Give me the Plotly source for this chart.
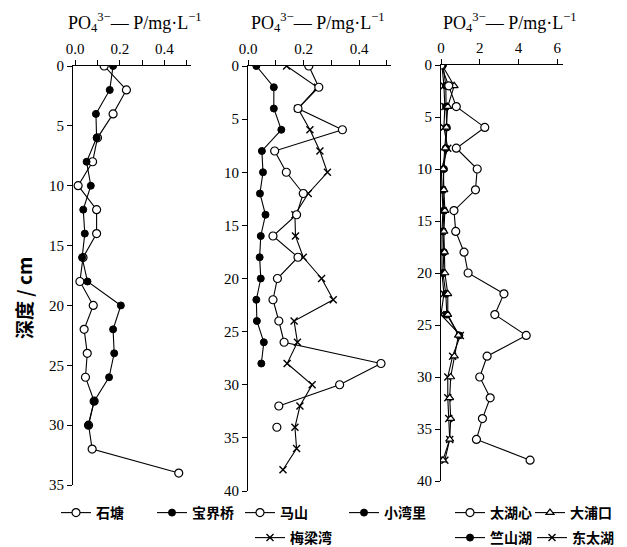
import plotly.graph_objects as go

W, H = 627, 547

# ---------------- data (PO4-P, mg/L vs depth, cm) ----------------
# Panel 1
depth_shitang = [0, 2, 4, 6, 8, 10, 12, 14, 16, 18, 20, 22, 24, 26, 28, 30, 32, 34]
shitang = [0.13, 0.23, 0.17, 0.10, 0.078, 0.013, 0.096, 0.096, 0.035, 0.021, 0.081,
           0.040, 0.054, 0.046, 0.085, 0.060, 0.076, 0.465]
depth_baojieqiao = [0, 2, 4, 6, 8, 10, 12, 14, 16, 18, 20, 22, 24, 26, 28, 30]
baojieqiao = [0.17, 0.155, 0.093, 0.096, 0.051, 0.070, 0.036, 0.043, 0.031, 0.055,
              0.205, 0.170, 0.175, 0.152, 0.085, 0.058]

# Panel 2
depth_mashan = [0, 2, 4, 6, 8, 10, 12, 14, 16, 18, 20, 22, 24, 26, 28, 30, 32, 33, 34]
mashan = [0.219, 0.255, 0.180, 0.340, 0.096, 0.138, 0.199, 0.175, 0.090, 0.180, 0.106,
          0.090, 0.111, 0.130, 0.479, 0.330, 0.111, None, 0.104]
depth_xiaowanli = [0, 2, 4, 6, 8, 10, 12, 14, 16, 18, 20, 22, 24, 26, 28]
xiaowanli = [0.030, 0.093, 0.093, 0.120, 0.050, 0.054, 0.043, 0.063, 0.046, 0.042,
             0.046, 0.030, 0.032, 0.057, 0.048]
depth_meiliangwan = [0, 2, 4, 6, 8, 10, 12, 14, 16, 18, 20, 22, 24, 26, 28, 30, 32, 34, 36, 38]
meiliangwan = [0.139, 0.250, 0.180, 0.223, 0.259, 0.286, 0.217, 0.169, 0.171, 0.199,
               0.265, 0.307, 0.166, 0.178, 0.141, 0.231, 0.187, 0.169, 0.175, 0.126]

# Panel 3
depth_p3 = [0, 2, 4, 6, 8, 10, 12, 14, 16, 18, 20, 22, 24, 26, 28, 30, 32, 34, 36, 38]
taihuxin = [0.0, 0.40, 0.79, 2.26, 0.79, 1.87, 1.78, 0.67, 0.76, 1.19, 1.40, 3.25,
            2.78, 4.40, 2.38, 2.00, 2.54, 2.14, 1.83, 4.60]
dapukou = [0.05, 0.68, 0.35, 0.28, 0.22, 0.12, 0.15, 0.20, 0.15, 0.18, 0.20, 0.35,
           0.35, 0.90, 0.69, 0.50, 0.45, 0.50, 0.45, 0.10]
depth_zhushanhu = [0, 2, 4, 6, 8, 10, 12, 14, 16, 18, 20, 22, 24, 26]
zhushanhu = [0.10, 0.25, 0.26, 0.30, 0.25, 0.15, 0.10, 0.15, 0.10, 0.15, 0.10, 0.25,
             0.30, 0.95]
dongtaihu = [0.05, 0.15, 0.20, 0.15, 0.35, 0.02, 0.05, 0.10, 0.05, 0.05, 0.05, 0.15,
             0.00, 1.00, 0.60, 0.35, 0.35, 0.40, 0.45, 0.20]

x_ticks_12 = [0.0, 0.1, 0.2, 0.3, 0.4, 0.5]
x_labels_12 = ["0.0", "", "0.2", "", "0.4", ""]
x_ticks_3 = [0, 2, 4, 6]
x_labels_3 = ["0", "2", "4", "6"]
y_ticks_1 = [0, 5, 10, 15, 20, 25, 30, 35]
y_ticks_23 = [0, 5, 10, 15, 20, 25, 30, 35, 40]

# ---------------- styles ----------------
SERIF = "Liberation Serif, Times New Roman, serif"
CJK = "Noto Sans CJK SC, sans-serif"
LINE = dict(color="black", width=1.1)
OPEN_C = dict(symbol="circle", size=8, color="white", line=dict(color="black", width=1.2))
FILL_C = dict(symbol="circle", size=7, color="black", line=dict(color="black", width=1))
XMARK = dict(symbol="x-thin", size=7, color="black", line=dict(color="black", width=1.4))
TRI = dict(symbol="triangle-up", size=7, color="white", line=dict(color="black", width=1.2))

fig = go.Figure()

def add(x, y, name, marker, ax, leg):
    fig.add_trace(go.Scatter(
        x=x, y=y, name=name, mode="lines+markers", line=LINE, marker=marker,
        xaxis="x" + ax, yaxis="y" + ax, legend=leg, connectgaps=False,
        hoverinfo="x+y+name"))

add(shitang, depth_shitang, "石塘", OPEN_C, "", "legend")
add(baojieqiao, depth_baojieqiao, "宝界桥", FILL_C, "", "legend2")
add(meiliangwan, depth_meiliangwan, "梅梁湾", XMARK, "2", "legend5")
add(mashan, depth_mashan, "马山", OPEN_C, "2", "legend3")
add(xiaowanli, depth_xiaowanli, "小湾里", FILL_C, "2", "legend4")
add(dongtaihu, depth_p3, "东太湖", XMARK, "3", "legend9")
add(zhushanhu, depth_zhushanhu, "竺山湖", FILL_C, "3", "legend8")
add(dapukou, depth_p3, "大浦口", TRI, "3", "legend7")
add(taihuxin, depth_p3, "太湖心", OPEN_C, "3", "legend6")

def px_x(p):
    return p / W

def px_y(p):
    return 1 - p / H

def xax(d0, d1, rng, tv, tt, anchor):
    return dict(domain=[px_x(d0), px_x(d1)], range=rng, side="top", anchor=anchor,
                showline=True, linecolor="black", linewidth=1.2, showgrid=False,
                zeroline=False, ticks="outside", ticklen=5, tickwidth=1, tickcolor="black",
                tickvals=tv, ticktext=tt, tickfont=dict(family=SERIF, size=15, color="black"),
                fixedrange=True)

def yax(top, bot, rng, tv, anchor):
    return dict(domain=[px_y(bot), px_y(top)], range=rng, anchor=anchor,
                showline=True, linecolor="black", linewidth=1.2, showgrid=False,
                zeroline=False, ticks="outside", ticklen=5, tickwidth=1, tickcolor="black",
                tickvals=tv, tickfont=dict(family=SERIF, size=15, color="black"),
                fixedrange=True)

legend_font = dict(family=CJK, size=14, color="black", weight="bold")

def leg(xp, yp):
    return dict(x=px_x(xp), y=px_y(yp), xanchor="left", yanchor="middle",
                orientation="h", bgcolor="rgba(0,0,0,0)", borderwidth=0,
                font=legend_font, itemwidth=30, tracegroupgap=0)

title_txt = "PO<sub>4</sub><sup>3−</sup>— P/mg·L<sup>−1</sup>"
ann = []
for cx in (127, 310, 502):
    ann.append(dict(text=title_txt, x=px_x(cx), y=px_y(15), xref="paper", yref="paper",
                    xanchor="center", yanchor="middle", showarrow=False,
                    font=dict(family=SERIF, size=18, color="black")))
ann.append(dict(text="深度 / cm", x=px_x(15), y=px_y(290), xref="paper", yref="paper",
                xanchor="center", yanchor="middle", showarrow=False, textangle=-90,
                font=dict(family=CJK, size=19, color="black", weight="bold")))

fig.update_layout(
    width=W, height=H, margin=dict(l=0, r=0, t=0, b=0, autoexpand=False),
    paper_bgcolor="white", plot_bgcolor="white", showlegend=True,
    xaxis=xax(65, 183, [-0.01, 0.52], x_ticks_12, x_labels_12, "y"),
    yaxis=yax(58, 477, [35, 0], y_ticks_1, "x"),
    xaxis2=xax(240, 383, [0, 0.515], x_ticks_12, x_labels_12, "y2"),
    yaxis2=yax(58, 483, [40, 0], y_ticks_23, "x2"),
    xaxis3=xax(433, 555, [0, 6.3], x_ticks_3, x_labels_3, "y3"),
    yaxis3=yax(57, 473, [40, 0], y_ticks_23, "x3"),
    legend=leg(48, 505),
    legend2=leg(144, 505),
    legend3=leg(232, 505),
    legend4=leg(336, 505),
    legend5=leg(242, 530),
    legend6=leg(442, 505),
    legend7=leg(522, 505),
    legend8=leg(442, 530),
    legend9=leg(524, 530),
    annotations=ann,
)

fig.write_html("out.html")
